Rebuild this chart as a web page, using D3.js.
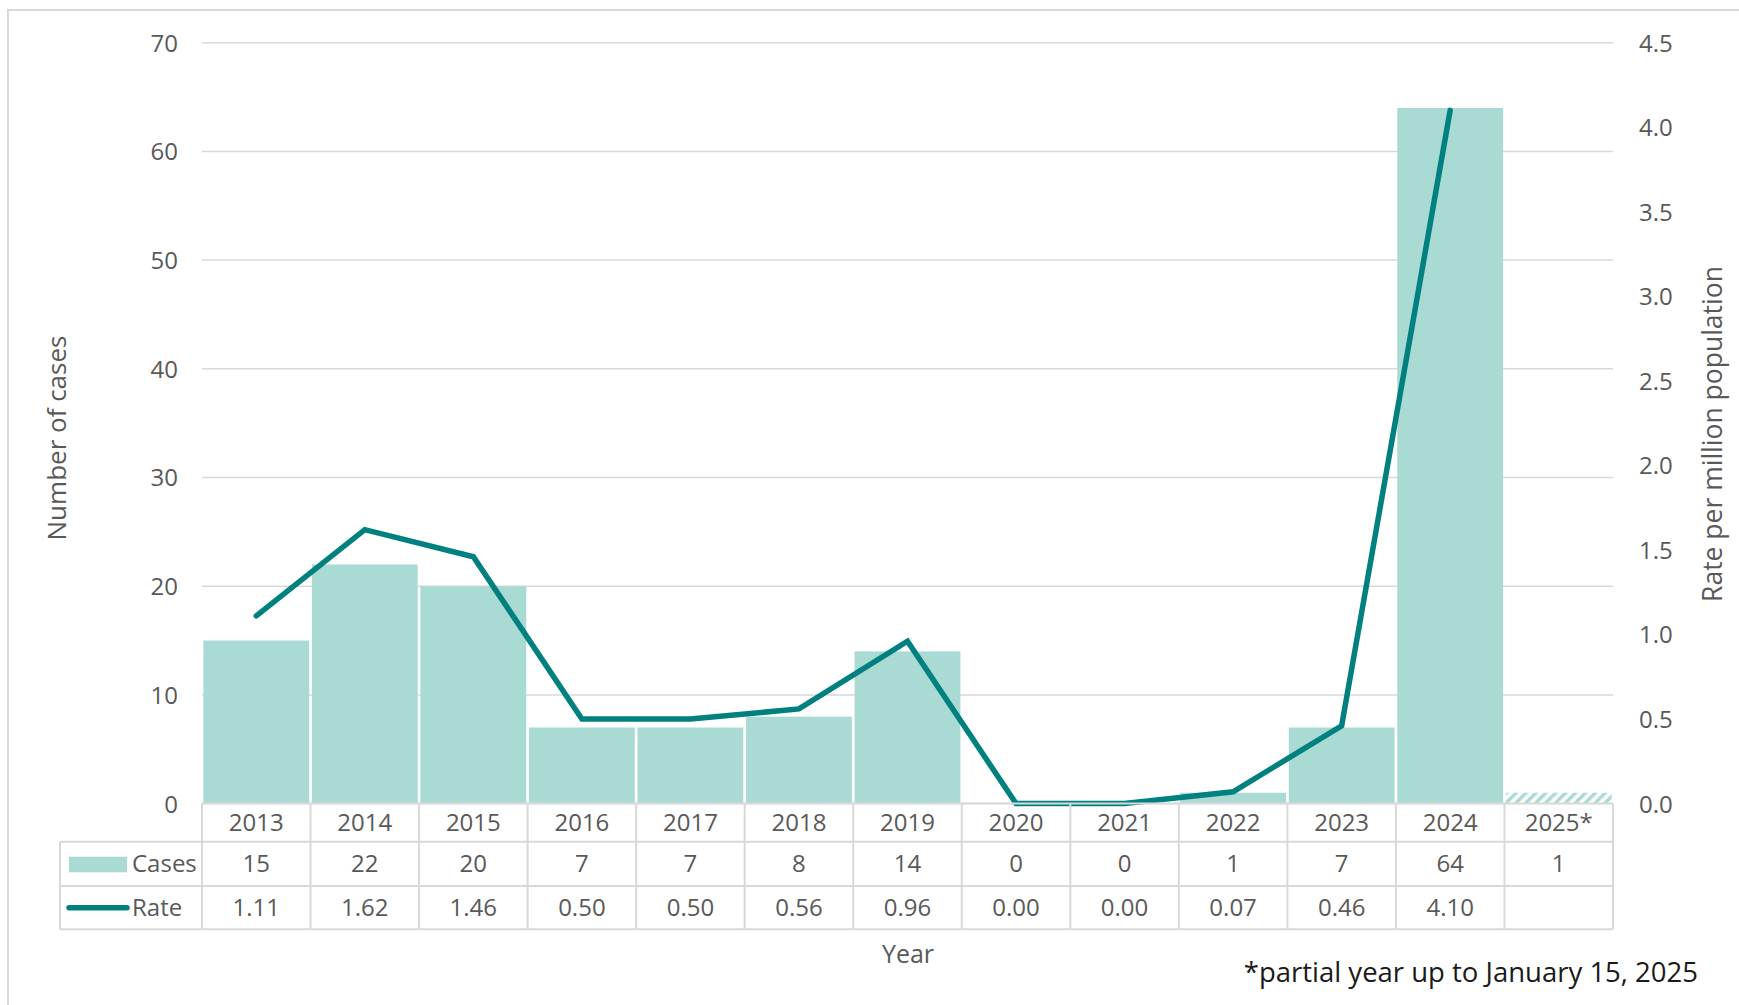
<!DOCTYPE html>
<html>
<head>
<meta charset="utf-8">
<script src="https://cdn.jsdelivr.net/npm/d3@7"></script>
<style>
  body { margin: 0; background: #fff; }
  svg text { font-family: "Open Sans", "Liberation Sans", sans-serif; fill: #595959; }
</style>
</head>
<body>
<script>
//-----------------Data----------------

const years = ["2013", "2014", "2015", "2016", "2017", "2018", "2019", "2020", "2021", "2022", "2023", "2024", "2025*"];
const cases = [15, 22, 20, 7, 7, 8, 14, 0, 0, 1, 7, 64, 1];
const rates = [1.11, 1.62, 1.46, 0.5, 0.5, 0.56, 0.96, 0.0, 0.0, 0.07, 0.46, 4.1, null];
const partialYear = "2025*";
const leftTicks = [0, 10, 20, 30, 40, 50, 60, 70];
const rightTicks = [0, 0.5, 1, 1.5, 2, 2.5, 3, 3.5, 4, 4.5];

//-----------------Layout----------------

const width = 1739;
const height = 1005;
const plotLeft = 202;
const plotRight = 1613;
const plotTop = 42.7;
const plotBottom = 803.6;
const rowLines = [plotBottom, 841.7, 886, 929.3];
const legendLeft = 60;
const barColor = "#a9dad3";
const lineColor = "#00807e";
const gridColor = "#d9d9d9";

const svg = d3.select("body").append("svg").attr("width", width).attr("height", height);

// outer frame
svg.append("rect")
  .attr("x", 8).attr("y", 10)
  .attr("width", 1800).attr("height", 1200)
  .attr("fill", "none").attr("stroke", gridColor).attr("stroke-width", 2);

// hatch pattern for partial year
const defs = svg.append("defs");
const hatch = defs.append("pattern")
  .attr("id", "hatch")
  .attr("patternUnits", "userSpaceOnUse")
  .attr("width", 7).attr("height", 7)
  .attr("patternTransform", "rotate(45)");
hatch.append("rect").attr("width", 7).attr("height", 7).attr("fill", "#fff");
hatch.append("rect").attr("width", 3.5).attr("height", 7).attr("fill", barColor);

//---------------Scales---------------------

const xScale = d3.scaleBand().domain(years).range([plotLeft, plotRight]).paddingInner(0.025).paddingOuter(0.0125);
const xBand = d3.scaleBand().domain(years).range([plotLeft, plotRight]);
const yLeft = d3.scaleLinear().domain([0, 70]).range([plotBottom, plotTop]);
const yRight = d3.scaleLinear().domain([0, 4.5]).range([plotBottom, plotTop]);

//-------------Gridlines----------------

svg.append("g")
  .selectAll("line")
  .data(leftTicks)
  .enter()
  .append("line")
  .attr("x1", plotLeft).attr("x2", plotRight)
  .attr("y1", (d) => yLeft(d)).attr("y2", (d) => yLeft(d))
  .attr("stroke", gridColor).attr("stroke-width", 1.5);

//-------------Axes----------------

const leftAxis = svg.append("g")
  .attr("transform", "translate(" + (plotLeft - 24) + ",0)")
  .call(d3.axisLeft(yLeft).tickValues(leftTicks).tickSize(0).tickPadding(0));
leftAxis.select(".domain").remove();
leftAxis.selectAll("text").style("font-size", "24px").attr("dy", "0.35em");

const rightAxis = svg.append("g")
  .attr("transform", "translate(" + (plotRight + 26) + ",0)")
  .call(d3.axisRight(yRight).tickValues(rightTicks).tickFormat(d3.format(".1f")).tickSize(0).tickPadding(0));
rightAxis.select(".domain").remove();
rightAxis.selectAll("text").style("font-size", "24px").attr("dy", "0.35em");

//-------------Bars----------------

svg.append("g")
  .selectAll("rect")
  .data(years)
  .enter()
  .append("rect")
  .attr("x", (d) => xScale(d))
  .attr("width", xScale.bandwidth())
  .attr("y", (d, i) => yLeft(cases[i]))
  .attr("height", (d, i) => plotBottom - yLeft(cases[i]))
  .attr("fill", (d) => (d === partialYear ? "url(#hatch)" : barColor));

//-------------Line----------------

const line = d3.line()
  .defined((d, i) => rates[i] !== null)
  .x((d) => xBand(d) + xBand.bandwidth() / 2)
  .y((d, i) => yRight(rates[i]));

svg.append("path")
  .attr("d", line(years))
  .attr("fill", "none")
  .attr("stroke", lineColor)
  .attr("stroke-width", 5.5)
  .attr("stroke-linecap", "round");

//-------------Data table----------------

const table = svg.append("g").attr("stroke", gridColor).attr("stroke-width", 2);

// horizontal lines
table.append("line").attr("x1", plotLeft).attr("x2", plotRight).attr("y1", rowLines[0]).attr("y2", rowLines[0]);
rowLines.slice(1).forEach((y) => {
  table.append("line").attr("x1", legendLeft).attr("x2", plotRight).attr("y1", y).attr("y2", y);
});

// vertical lines
xBand.domain().concat(["end"]).forEach((d, i) => {
  const x = plotLeft + i * xBand.bandwidth();
  table.append("line").attr("x1", x).attr("x2", x).attr("y1", rowLines[0]).attr("y2", rowLines[3]);
});
table.append("line").attr("x1", legendLeft).attr("x2", legendLeft).attr("y1", rowLines[1]).attr("y2", rowLines[3]);

const rowMid = (r) => (rowLines[r] + rowLines[r + 1]) / 2;
const cellText = (labels, r) => {
  svg.append("g")
    .selectAll("text")
    .data(years)
    .enter()
    .append("text")
    .attr("x", (d) => xBand(d) + xBand.bandwidth() / 2)
    .attr("y", rowMid(r))
    .attr("dy", "0.35em")
    .style("text-anchor", "middle")
    .style("font-size", "24px")
    .text((d, i) => labels[i]);
};
cellText(years, 0);
cellText(cases.map((d) => String(d)), 1);
cellText(rates.map((d) => (d === null ? "" : d.toFixed(2))), 2);

// legend keys
svg.append("rect")
  .attr("x", 69).attr("y", 856.7)
  .attr("width", 58).attr("height", 15.6)
  .attr("fill", barColor);
svg.append("line")
  .attr("x1", 69).attr("x2", 127)
  .attr("y1", rowMid(2)).attr("y2", rowMid(2))
  .attr("stroke", lineColor).attr("stroke-width", 5.5).attr("stroke-linecap", "round");
svg.append("text").attr("x", 132).attr("y", rowMid(1)).attr("dy", "0.35em").style("font-size", "24px").text("Cases");
svg.append("text").attr("x", 132).attr("y", rowMid(2)).attr("dy", "0.35em").style("font-size", "24px").text("Rate");

//-------------Axis titles----------------

svg.append("text")
  .text("Number of cases")
  .attr("transform", "translate(57,438) rotate(-90)")
  .attr("dy", "0.35em")
  .style("text-anchor", "middle")
  .style("font-size", "26px");

svg.append("text")
  .text("Rate per million population")
  .attr("transform", "translate(1713,434) rotate(-90)")
  .attr("dy", "0.35em")
  .style("text-anchor", "middle")
  .style("font-size", "26.5px");

svg.append("text")
  .text("Year")
  .attr("x", 908).attr("y", 954)
  .attr("dy", "0.35em")
  .style("text-anchor", "middle")
  .style("font-size", "25px");

svg.append("text")
  .text("*partial year up to January 15, 2025")
  .attr("x", 1698).attr("y", 972)
  .attr("dy", "0.35em")
  .style("text-anchor", "end")
  .style("font-size", "27.5px")
  .style("fill", "#1a1a1a");
</script>
</body>
</html>
